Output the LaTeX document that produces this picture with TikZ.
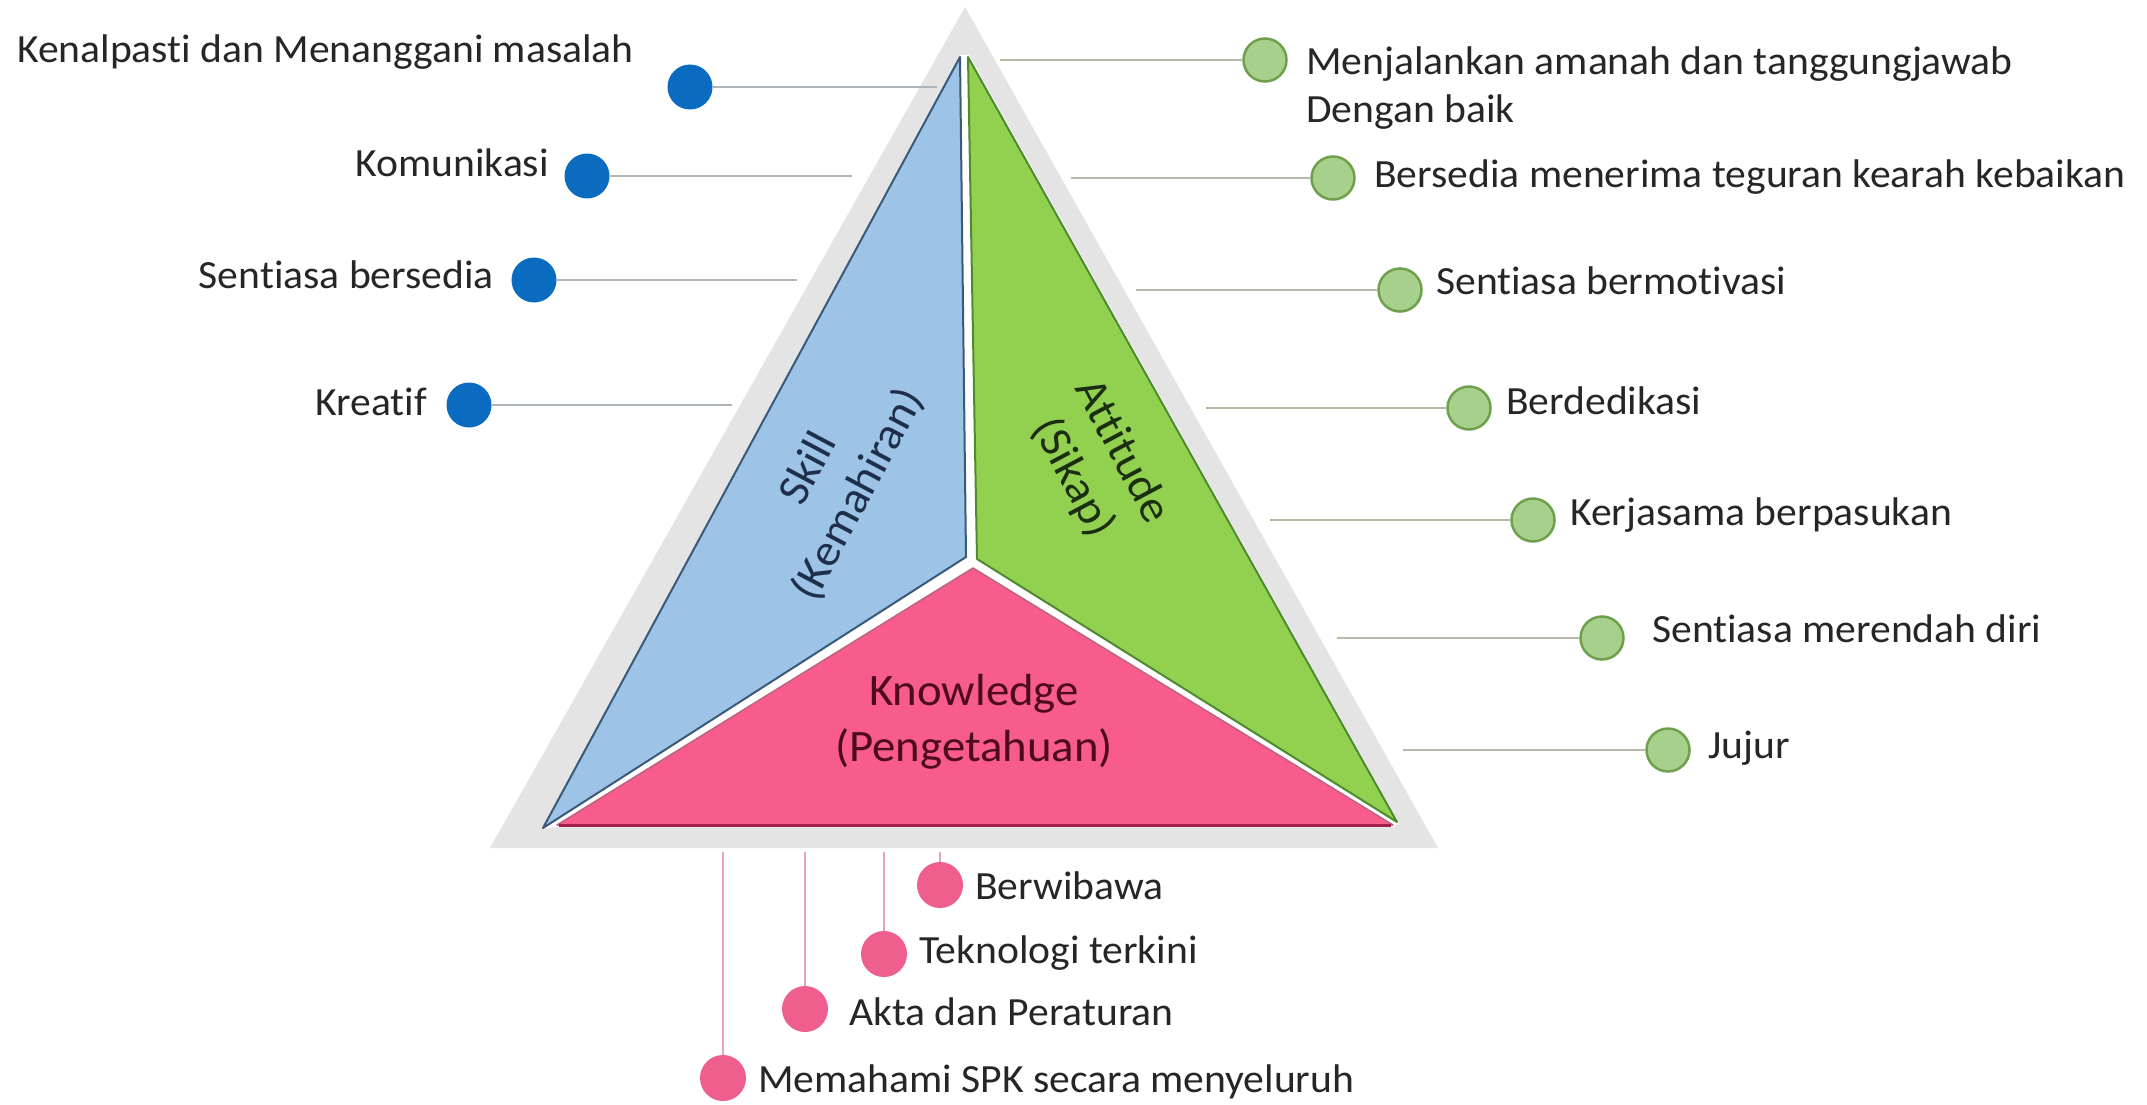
\documentclass[tikz,border=0pt]{standalone}
\usepackage{fontspec}
\setmainfont{Carlito}[FakeStretch=1.04, Ligatures=NoCommon]
\definecolor{bandgray}{HTML}{E4E4E4}
\definecolor{skillblue}{HTML}{9DC3E6}
\definecolor{skillline}{HTML}{3A5A78}
\definecolor{attgreen}{HTML}{92D050}
\definecolor{attline}{HTML}{4E8A2E}
\definecolor{knowpink}{HTML}{F85C8C}
\definecolor{knowline}{HTML}{A02048}
\definecolor{dotblue}{HTML}{0A6BC0}
\definecolor{dotgreen}{HTML}{A8D08D}
\definecolor{dotgreenb}{HTML}{6FA04C}
\definecolor{dotpink}{HTML}{EE5F8D}
\definecolor{txt}{HTML}{262626}
\definecolor{skilltxt}{HTML}{1F2F4A}
\definecolor{atttxt}{HTML}{1C2E12}
\definecolor{knowtxt}{HTML}{4E0A1E}
\definecolor{lgray}{HTML}{AEB6BC}
\definecolor{lgreen}{HTML}{B4BCA8}
\definecolor{lpink}{HTML}{E9A4BA}
\begin{document}
\begin{tikzpicture}[x=1pt,y=-1pt,
  lbl/.style={font=\fontsize{40}{48}\selectfont, text=txt, inner sep=0pt},
  biglbl/.style={font=\fontsize{45}{56}\selectfont, align=center, inner sep=0pt},
  bdot/.style={circle, fill=dotblue, minimum size=45pt, inner sep=0pt},
  gdot/.style={circle, fill=dotgreen, draw=dotgreenb, line width=2.5pt, minimum size=43pt, inner sep=0pt},
  pdot/.style={circle, fill=dotpink, minimum size=46pt, inner sep=0pt},
  lline/.style={draw=lgray, line width=2pt},
  rline/.style={draw=lgreen, line width=2pt},
  pline/.style={draw=lpink, line width=2pt}]
\useasboundingbox (0,0) rectangle (2147,1105);
\fill[white] (0,0) rectangle (2147,1105);
% gray band
\fill[bandgray] (965,7) -- (1438,848) -- (490,848) -- cycle;
% white ground for gaps
\fill[white] (960,55) -- (969,55) -- (1399,823) -- (1394,827) -- (556,827) -- (542,829) -- cycle;
% segments
\filldraw[fill=skillblue, draw=skillline, line width=2pt, line join=round] (960,57) -- (966,557) -- (543,828) -- cycle;
\filldraw[fill=attgreen, draw=attline, line width=2pt, line join=round] (968,57) -- (1397,822) -- (977,559) -- cycle;
\filldraw[fill=knowpink, draw=knowline!70, line width=1.5pt, line join=round] (973,568) -- (1393,825) -- (557,825) -- cycle;
\draw[knowline, line width=3pt] (559,825) -- (1391,825);
% segment labels
\node[biglbl, text=skilltxt, rotate=62] (skill) at (834,482) {Skill\\(Kemahiran)};
\node[biglbl, text=atttxt, rotate=-62] (att) at (1097,465) {Attitude\\(Sikap)};
\node[biglbl, text=knowtxt] (know) at (974,722) {Knowledge\\(Pengetahuan)};
% left (skill) items
\node[bdot] (b1) at (690,87) {};
\node[bdot] (b2) at (587,176) {};
\node[bdot] (b3) at (534,280) {};
\node[bdot] (b4) at (469,405) {};
\coordinate (b1e) at (937,87);
\coordinate (b2e) at (852,176);
\coordinate (b3e) at (797,280);
\coordinate (b4e) at (732,405);
\draw[lline] (b1) -- (b1e);
\draw[lline] (b2) -- (b2e);
\draw[lline] (b3) -- (b3e);
\draw[lline] (b4) -- (b4e);
\node[lbl, anchor=base west] (t1) at (17,63) {Kenalpasti dan Menanggani masalah};
\node[lbl, anchor=base east] (t2) at (549,176) {Komunikasi};
\node[lbl, anchor=base east] (t3) at (494,288) {Sentiasa bersedia};
\node[lbl, anchor=base east] (t4) at (427,415) {Kreatif};
% right (attitude) items
\node[gdot] (g1) at (1265,60) {};
\node[gdot] (g2) at (1333,178) {};
\node[gdot] (g3) at (1400,290) {};
\node[gdot] (g4) at (1469,408) {};
\node[gdot] (g5) at (1533,520) {};
\node[gdot] (g6) at (1602,638) {};
\node[gdot] (g7) at (1668,750) {};
\coordinate (g1s) at (1000,60);
\coordinate (g2s) at (1071,178);
\coordinate (g3s) at (1136,290);
\coordinate (g4s) at (1206,408);
\coordinate (g5s) at (1270,520);
\coordinate (g6s) at (1337,638);
\coordinate (g7s) at (1403,750);
\draw[rline] (g1s) -- (g1);
\draw[rline] (g2s) -- (g2);
\draw[rline] (g3s) -- (g3);
\draw[rline] (g4s) -- (g4);
\draw[rline] (g5s) -- (g5);
\draw[rline] (g6s) -- (g6);
\draw[rline] (g7s) -- (g7);
\node[lbl, anchor=base west] (r1) at (1306,75) {Menjalankan amanah dan tanggungjawab};
\node[lbl, anchor=base west] (r1b) at (1306,123) {Dengan baik};
\node[lbl, anchor=base west] (r2) at (1374,187) {Bersedia menerima teguran kearah kebaikan};
\node[lbl, anchor=base west] (r3) at (1436,294) {Sentiasa bermotivasi};
\node[lbl, anchor=base west] (r4) at (1506,414) {Berdedikasi};
\node[lbl, anchor=base west] (r5) at (1570,525) {Kerjasama berpasukan};
\node[lbl, anchor=base west] (r6) at (1652,642) {Sentiasa merendah diri};
\node[lbl, anchor=base west] (r7) at (1708,758) {Jujur};
% bottom (knowledge) items
\node[pdot] (p1) at (940,885) {};
\node[pdot] (p2) at (884,954) {};
\node[pdot] (p3) at (805,1009) {};
\node[pdot] (p4) at (723,1078) {};
\coordinate (p1s) at (940,852);
\coordinate (p2s) at (884,852);
\coordinate (p3s) at (805,852);
\coordinate (p4s) at (723,852);
\draw[pline] (p1s) -- (p1);
\draw[pline] (p2s) -- (p2);
\draw[pline] (p3s) -- (p3);
\draw[pline] (p4s) -- (p4);
\node[lbl, anchor=base west] (k1) at (975,899) {Berwibawa};
\node[lbl, anchor=base west] (k2) at (919,963) {Teknologi terkini};
\node[lbl, anchor=base west] (k3) at (849,1025) {Akta dan Peraturan};
\node[lbl, anchor=base west] (k4) at (758,1092) {Memahami SPK secara menyeluruh};
\end{tikzpicture}
\end{document}
